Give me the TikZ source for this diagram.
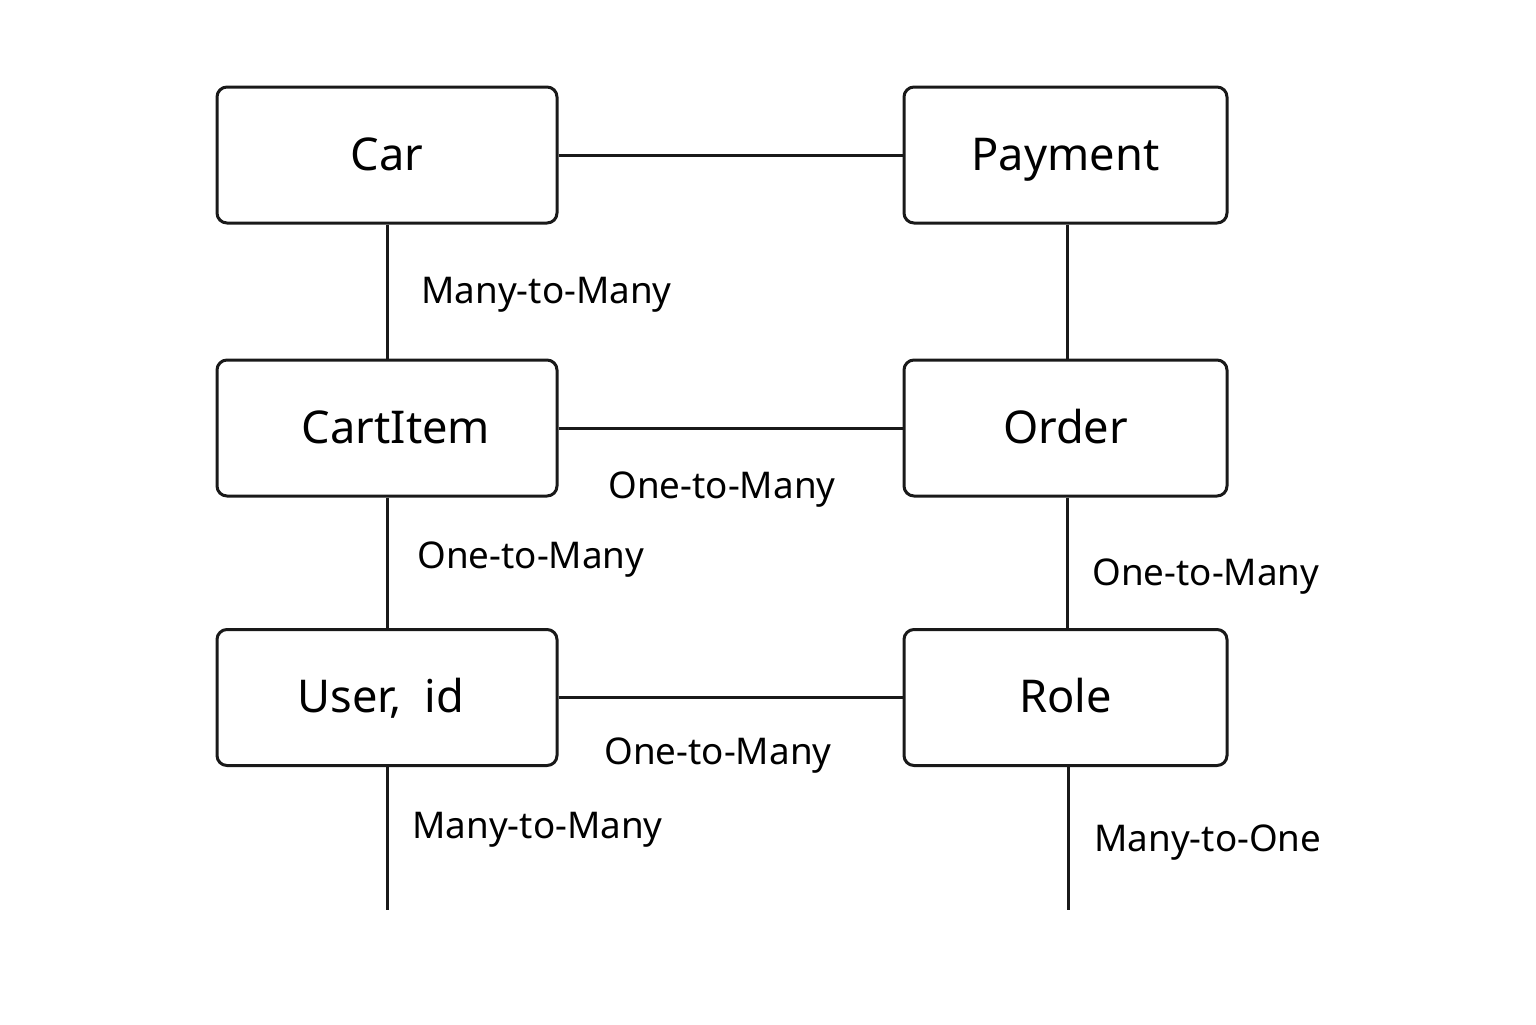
\documentclass[tikz,border=0pt]{standalone}
\usepackage{fontspec}
\setmainfont{Noto Sans}
\begin{document}
\begin{tikzpicture}[x=0.5pt,y=-0.5pt,
  entity/.style={draw=black!90,line width=1.5pt,rounded corners=5pt,minimum width=170pt,minimum height=68pt,inner sep=0pt,text height=19pt,text depth=4pt,font=\fontsize{22.6}{26}\selectfont},
  entityR/.style={entity,minimum width=161.5pt},
  conn/.style={draw=black!90,line width=1.5pt},
  lab/.style={font=\fontsize{18.4}{22}\selectfont,inner sep=0pt,text height=13pt,text depth=4pt}]
\useasboundingbox (0,0) rectangle (1536,1024);
\node[entity] (car) at (387,155) {Car};
\node[entityR] (pay) at (1065.5,155) {Payment};
\node[entity] (cart) at (387,428) {\hspace*{9pt}CartItem};
\node[entityR] (order) at (1065.5,428) {Order};
\node[entity] (user) at (387,697.5) {User,\ \ id\hspace*{6pt}};
\node[entityR] (role) at (1065.5,697.5) {Role};
\coordinate (uend) at (387,910);
\coordinate (rend) at (1068,910);
\draw[conn] (car) -- (pay);
\draw[conn] (car) -- (cart);
\draw[conn] (pay.south -| 1067,0) -- (order.north -| 1067,0);
\draw[conn] (cart) -- (order);
\draw[conn] (cart) -- (user);
\draw[conn] (order.south -| 1067,0) -- (role.north -| 1067,0);
\draw[conn] (user) -- (role);
\draw[conn] (user) -- (uend);
\draw[conn] (role.south -| rend) -- (rend);
\node[lab,anchor=west] (l1) at (421,294) {Many-to-Many};
\node[lab] (l2) at (722,489) {One-to-Many};
\node[lab,anchor=west] (l3) at (417,559) {One-to-Many};
\node[lab,anchor=west] (l4) at (1092,576) {One-to-Many};
\node[lab] (l5) at (718,755) {One-to-Many};
\node[lab,anchor=west] (l6) at (412,829) {Many-to-Many};
\node[lab,anchor=west] (l7) at (1094,842) {Many-to-One};
\end{tikzpicture}
\end{document}
